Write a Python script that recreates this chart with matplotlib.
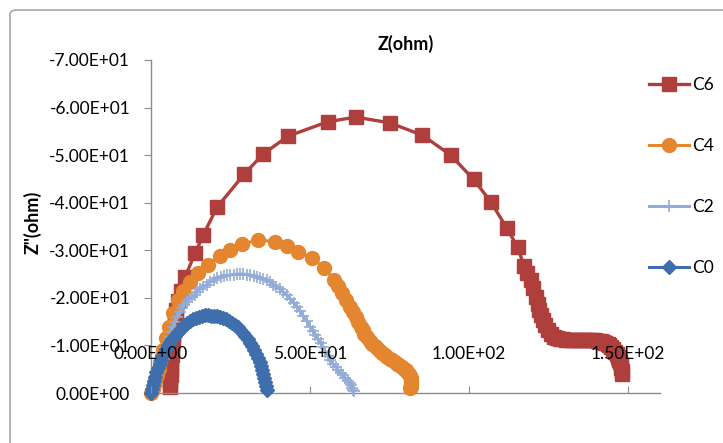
import matplotlib
matplotlib.use('Agg')
import matplotlib.pyplot as plt
from matplotlib.patches import FancyBboxPatch

plt.rcParams['font.family'] = ['Lato', 'DejaVu Sans']

# impedance data (Z' in ohm, Z'' in ohm)
c6_x = [6.0, 6.05, 6.1, 6.15, 6.2, 6.3, 6.4, 6.5, 6.6, 6.75, 6.9, 7.05, 7.2, 7.4, 7.6, 7.8, 8.0, 8.6,
        9.5, 10.7, 13.9, 16.4, 20.8, 29.3, 35.2, 43.1, 55.5, 64.3, 75.0, 85.3, 94.2, 101.4, 106.8,
        111.9, 115.3, 117.3, 118.3, 119.4, 120.2, 121.0, 121.5, 122.1, 122.6, 123.1, 123.9, 124.7,
        125.7, 126.8, 127.6, 128.5, 129.5, 130.5, 131.5, 132.5, 133.5, 134.5, 135.5, 136.5, 137.5,
        138.5, 139.5, 140.5, 141.3, 142.0, 142.8, 143.5, 144.1, 144.7, 145.3, 145.9, 146.4, 146.8,
        147.1, 147.4, 147.6, 147.8, 147.9, 148.0]
c6_y = [-1.3, -2.0, -2.7, -3.8, -4.8, -5.9, -6.9, -8.0, -9.0, -10.1, -11.1, -12.2, -13.2, -14.3,
        -15.3, -16.4, -17.4, -19.4, -21.5, -24.4, -29.4, -33.2, -39.1, -46.0, -50.2, -54.0, -57.0,
        -58.0, -56.8, -54.2, -50.0, -44.9, -40.2, -34.6, -30.6, -26.6, -25.2, -23.8, -22.0, -20.2,
        -18.8, -17.4, -16.3, -15.3, -14.2, -13.2, -12.5, -11.8, -11.6, -11.4, -11.3, -11.2, -11.15,
        -11.1, -11.1, -11.1, -11.1, -11.1, -11.1, -11.1, -11.05, -11.0, -10.9, -10.8, -10.6, -10.4,
        -10.1, -9.7, -9.2, -8.7, -8.2, -7.6, -7.0, -6.5, -5.9, -5.3, -4.7, -4.0]

c4_x = [0.0, 0.5, 0.9, 1.4, 1.9, 2.4, 2.8, 3.4, 3.9, 4.7, 5.7, 6.9, 8.5, 10.1, 12.3, 14.8, 18.0, 21.7,
        24.9, 28.7, 33.7, 39.1, 42.9, 46.3, 50.7, 54.5, 57.5, 58.8, 60.1, 61.4, 62.7, 63.5, 64.3,
        65.1, 65.9, 66.5, 67.0, 68.0, 68.8, 69.5, 70.3, 71.1, 71.9, 72.7, 73.5, 74.3, 75.0, 75.8,
        76.6, 77.4, 78.1, 78.8, 79.4, 80.0, 80.5, 81.0, 81.3, 81.6, 81.7, 81.7, 81.7, 81.6, 81.4]
c4_y = [0.0, -0.8, -1.7, -2.7, -3.8, -5.1, -6.5, -7.8, -9.0, -11.6, -13.9, -16.8, -19.6, -21.4,
        -23.3, -25.2, -26.9, -28.8, -30.1, -31.3, -32.2, -31.8, -30.8, -29.7, -28.3, -26.3, -23.8,
        -22.4, -21.0, -19.5, -18.1, -17.0, -16.0, -15.0, -13.9, -13.2, -12.5, -11.8, -11.0, -10.3,
        -9.8, -9.4, -8.9, -8.5, -8.0, -7.6, -7.2, -6.9, -6.5, -6.2, -5.8, -5.5, -5.1, -4.8, -4.4,
        -4.0, -3.5, -3.1, -2.6, -2.2, -1.7, -1.3, -1.0]

c2_x = [0.0, 0.3, 0.6, 1.1, 1.7, 2.2, 2.8, 3.3, 3.9, 4.4, 5.0, 5.5, 6.0, 6.4, 6.9, 7.5, 8.2, 9.0,
        9.8, 10.5, 11.3, 12.1, 12.9, 13.7, 14.5, 15.4, 16.4, 17.5, 18.6, 19.7, 20.8, 21.9, 23.0,
        24.0, 24.9, 26.0, 27.1, 28.0, 29.0, 30.1, 31.2, 32.3, 33.4, 34.3, 35.3, 36.4, 37.5, 38.5,
        39.4, 40.5, 41.6, 42.7, 43.8, 44.9, 46.0, 46.9, 47.9, 49.0, 50.1, 50.9, 51.7, 52.5, 53.3,
        54.0, 54.8, 55.6, 56.4, 57.2, 58.0, 58.8, 59.6, 60.3, 61.1, 61.9, 62.7, 63.0, 63.3, 63.5,
        63.7]
c2_y = [0.0, -1.0, -2.1, -3.1, -4.2, -5.2, -6.3, -7.2, -8.0, -8.9, -9.7, -10.8, -11.8, -12.9, -13.9,
        -15.0, -16.0, -17.0, -17.9, -18.5, -19.1, -19.7, -20.2, -20.7, -21.2, -21.8, -22.3, -22.8,
        -23.3, -23.8, -24.2, -24.4, -24.6, -24.7, -24.8, -24.9, -25.0, -25.0, -25.0, -24.9, -24.8,
        -24.6, -24.4, -24.2, -24.0, -23.7, -23.3, -22.8, -22.3, -21.8, -21.2, -20.5, -19.8, -19.0,
        -18.1, -17.2, -16.2, -15.1, -13.9, -13.0, -12.2, -11.3, -10.5, -9.6, -8.6, -7.7, -6.9,
        -6.2, -5.5, -4.8, -4.2, -3.7, -3.2, -2.6, -2.1, -1.6, -1.1, -0.7, -0.4]

c0_x = [0.0, 0.3, 0.6, 0.9, 1.3, 1.7, 2.2, 2.7, 3.2, 3.6, 4.1, 4.7, 5.4, 6.0, 6.6, 7.4, 8.2, 9.0,
        9.8, 10.5, 11.3, 12.2, 13.2, 14.1, 15.1, 16.0, 17.0, 17.9, 18.9, 19.8, 20.8, 21.7, 22.7,
        23.6, 24.6, 25.5, 26.5, 27.3, 28.0, 28.8, 29.6, 30.4, 31.2, 31.9, 32.5, 33.1, 33.7, 34.2,
        34.7, 35.0, 35.3, 35.6, 35.9, 36.3, 36.6]
c0_y = [0.0, -0.9, -1.7, -2.6, -3.4, -4.4, -5.3, -6.1, -6.9, -7.7, -8.4, -9.3, -10.1, -10.8, -11.4,
        -12.0, -12.6, -13.2, -13.7, -14.2, -14.7, -15.2, -15.6, -15.8, -16.0, -16.2, -16.4, -16.3,
        -16.2, -16.2, -16.2, -16.0, -15.8, -15.5, -15.1, -14.7, -14.3, -13.8, -13.2, -12.6, -12.0,
        -11.3, -10.5, -9.8, -9.0, -8.2, -7.4, -6.6, -5.7, -4.9, -4.0, -3.2, -2.3, -1.4, -0.6]

# two extra series that only show as a point at the origin
origin_x = [0.0]
origin_y = [0.0]

x_ticks = [0, 50, 100, 150]
y_ticks = [0, -10, -20, -30, -40, -50, -60, -70]

fig = plt.figure(figsize=(7.23, 4.43), dpi=100)
ax = fig.add_axes([151 / 723, 1 - 393 / 443, 509 / 723, 333 / 443])

# chart area border (only left/top edges are inside the picture)
fig.patches.append(FancyBboxPatch((10 / 723, -0.1), 1.2, 1 - 10 / 443 + 0.1,
                                  boxstyle='round,pad=0,rounding_size=0.01',
                                  transform=fig.transFigure, fc='none', ec='#a6a6a6', lw=1.2))

ax.plot(origin_x, origin_y, '^', color='#9bbb59', ms=7, clip_on=False, zorder=1)
ax.plot(origin_x, origin_y, 'x', color='#4bacc6', ms=7, mew=1.5, clip_on=False, zorder=1)

l0, = ax.plot(c0_x, c0_y, '-D', color='#3e6eab', lw=2.2, ms=7.5, label='C0', zorder=5, clip_on=False)
l2, = ax.plot(c2_x, c2_y, '-+', color='#93abd7', lw=2.2, ms=9, mew=1.2, label='C2', zorder=4, clip_on=False)
l4, = ax.plot(c4_x, c4_y, '-o', color='#e3862f', lw=2.2, ms=10, label='C4', zorder=3, clip_on=False)
l6, = ax.plot(c6_x, c6_y, '-s', color='#ae3f3c', lw=2.4, ms=9.5, label='C6', zorder=2, clip_on=False)

ax.set_xlim(0, 160)
ax.set_ylim(0, -70)
ax.set_xticks(x_ticks)
ax.set_yticks(y_ticks)
ax.set_xticklabels(['%.2E' % v for v in x_ticks])
ax.set_yticklabels(['%.2E' % v for v in y_ticks])
# x labels sit inside the plot, drawn over the curves like Excel does
ax.xaxis.set_zorder(10)

for s in ['top', 'right']:
    ax.spines[s].set_visible(False)
for s in ['left', 'bottom']:
    ax.spines[s].set_color('#8c8c8c')
    ax.spines[s].set_linewidth(1.0)

ax.tick_params(axis='x', direction='in', length=5, color='#8c8c8c', labelsize=12.5, pad=-34)
ax.tick_params(axis='y', direction='out', length=5, color='#8c8c8c', labelsize=12.5, pad=10)

ax.set_title('Z(ohm)', fontsize=13, fontweight='bold', pad=7)
fig.text(33 / 723, 1 - 222 / 443, 'Z"(ohm)', rotation=90, ha='center', va='center',
         fontsize=13, fontweight='bold')

fig.legend(handles=[l6, l4, l2, l0], loc='upper left', bbox_to_anchor=(649 / 723, 1 - 77 / 443),
           frameon=False, fontsize=12.5, handlelength=2.3, handletextpad=0.2, labelspacing=2.6,
           borderpad=0, borderaxespad=0, markerscale=1.0)

fig.savefig('out.png', dpi=100)
